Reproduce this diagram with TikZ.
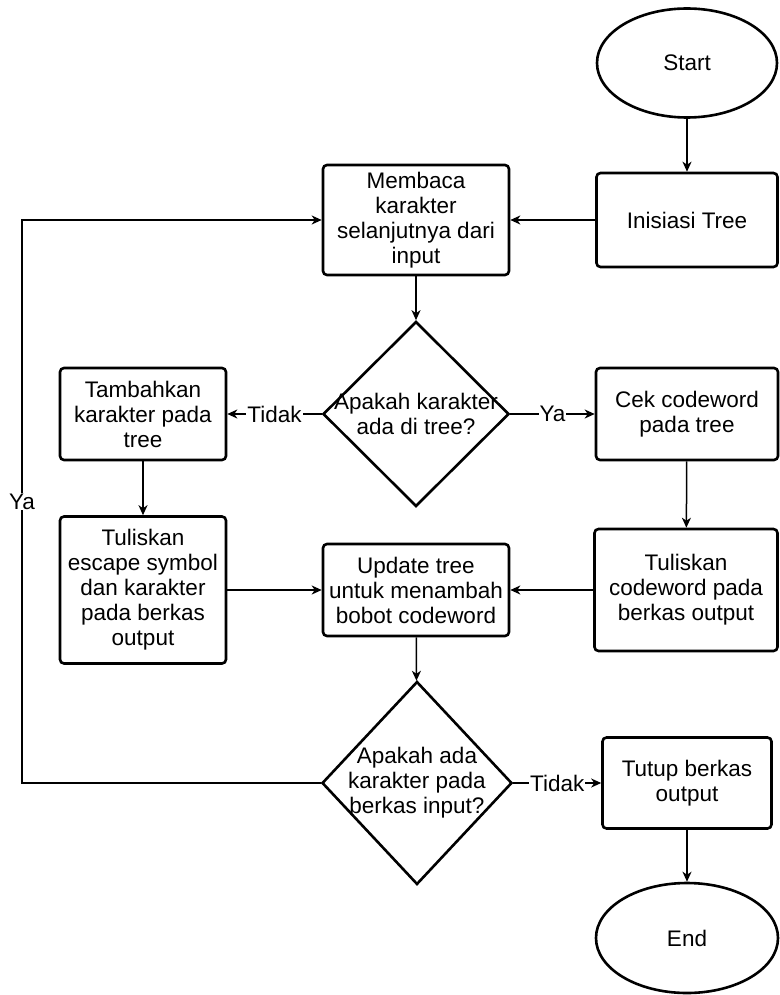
\documentclass[tikz,border=0pt]{standalone}
\usepackage{fontspec}
\setmainfont{Liberation Sans}
\usetikzlibrary{shapes.geometric, arrows.meta}

\begin{document}
\begin{tikzpicture}[x=1pt, y=-1pt,
  txt/.style={font=\fontsize{22.5}{25}\selectfont, align=center},
  proc/.style={txt, draw, line width=2.6pt, rounded corners=4pt, inner sep=0pt},
  term/.style={txt, draw, ellipse, line width=2.6pt, inner sep=0pt},
  decision/.style={draw, diamond, line width=2.6pt, inner sep=0pt},
  flow/.style={line width=1.5pt, -{Stealth[length=10pt,width=9pt,inset=3pt]}},
  edgelabel/.style={txt, fill=white, inner sep=1pt}
]
\useasboundingbox (0,0) rectangle (779,995);

% terminals and process boxes
\node[term, minimum width=180pt, minimum height=109pt] (start) at (687,63) {Start};
\node[proc, minimum width=181pt, minimum height=94pt] (init) at (687,220) {Inisiasi Tree};
\node[proc, minimum width=186pt, minimum height=110pt] (read) at (416,220) {Membaca\\karakter\\selanjutnya dari\\input};

\node[decision, minimum width=186pt, minimum height=185pt] (q1) at (416,414) {};
\node[txt] (q1text) at (416,414) {Apakah karakter\\ada di tree?};

\node[proc, minimum width=166pt, minimum height=92pt] (add) at (143,414) {Tambahkan\\karakter pada\\tree};
\node[proc, minimum width=182pt, minimum height=92pt] (check) at (687,414) {Cek codeword\\pada tree};

\node[proc, minimum width=166pt, minimum height=147pt] (esc) at (143,590) {Tuliskan\\escape symbol\\dan karakter\\pada berkas\\output};
\node[proc, minimum width=186pt, minimum height=92pt] (upd) at (416,590) {Update tree\\untuk menambah\\bobot codeword};
\node[proc, minimum width=183pt, minimum height=122pt] (wcw) at (686,590) {Tuliskan\\codeword pada\\berkas output};

\node[decision, minimum width=190pt, minimum height=203pt] (q2) at (417,783) {};
\node[txt] (q2text) at (417,783) {Apakah ada\\karakter pada\\berkas input?};

\node[proc, minimum width=169pt, minimum height=91pt] (close) at (687,783) {Tutup berkas\\output};
\node[term, minimum width=182pt, minimum height=110pt] (end) at (687,938) {End};

\coordinate (loopc) at (22,783);

% connectors
\draw[flow] (start) -- (init);
\draw[flow] (init) -- (read);
\draw[flow] (read) -- (q1);
\draw[flow] (q1) -- node[edgelabel] {Tidak} (add);
\draw[flow] (q1) -- node[edgelabel] {Ya} (check);
\draw[flow] (add) -- (esc);
\draw[flow] (check) -- (wcw);
\draw[flow] (esc) -- (upd);
\draw[flow] (wcw) -- (upd);
\draw[flow] (upd) -- (q2);
\draw[flow] (q2) -- node[edgelabel] {Tidak} (close);
\draw[flow] (close) -- (end);
\draw[flow] (q2.west) -- (loopc) -- node[edgelabel] {Ya} (loopc |- read) -- (read.west);
\end{tikzpicture}
\end{document}
